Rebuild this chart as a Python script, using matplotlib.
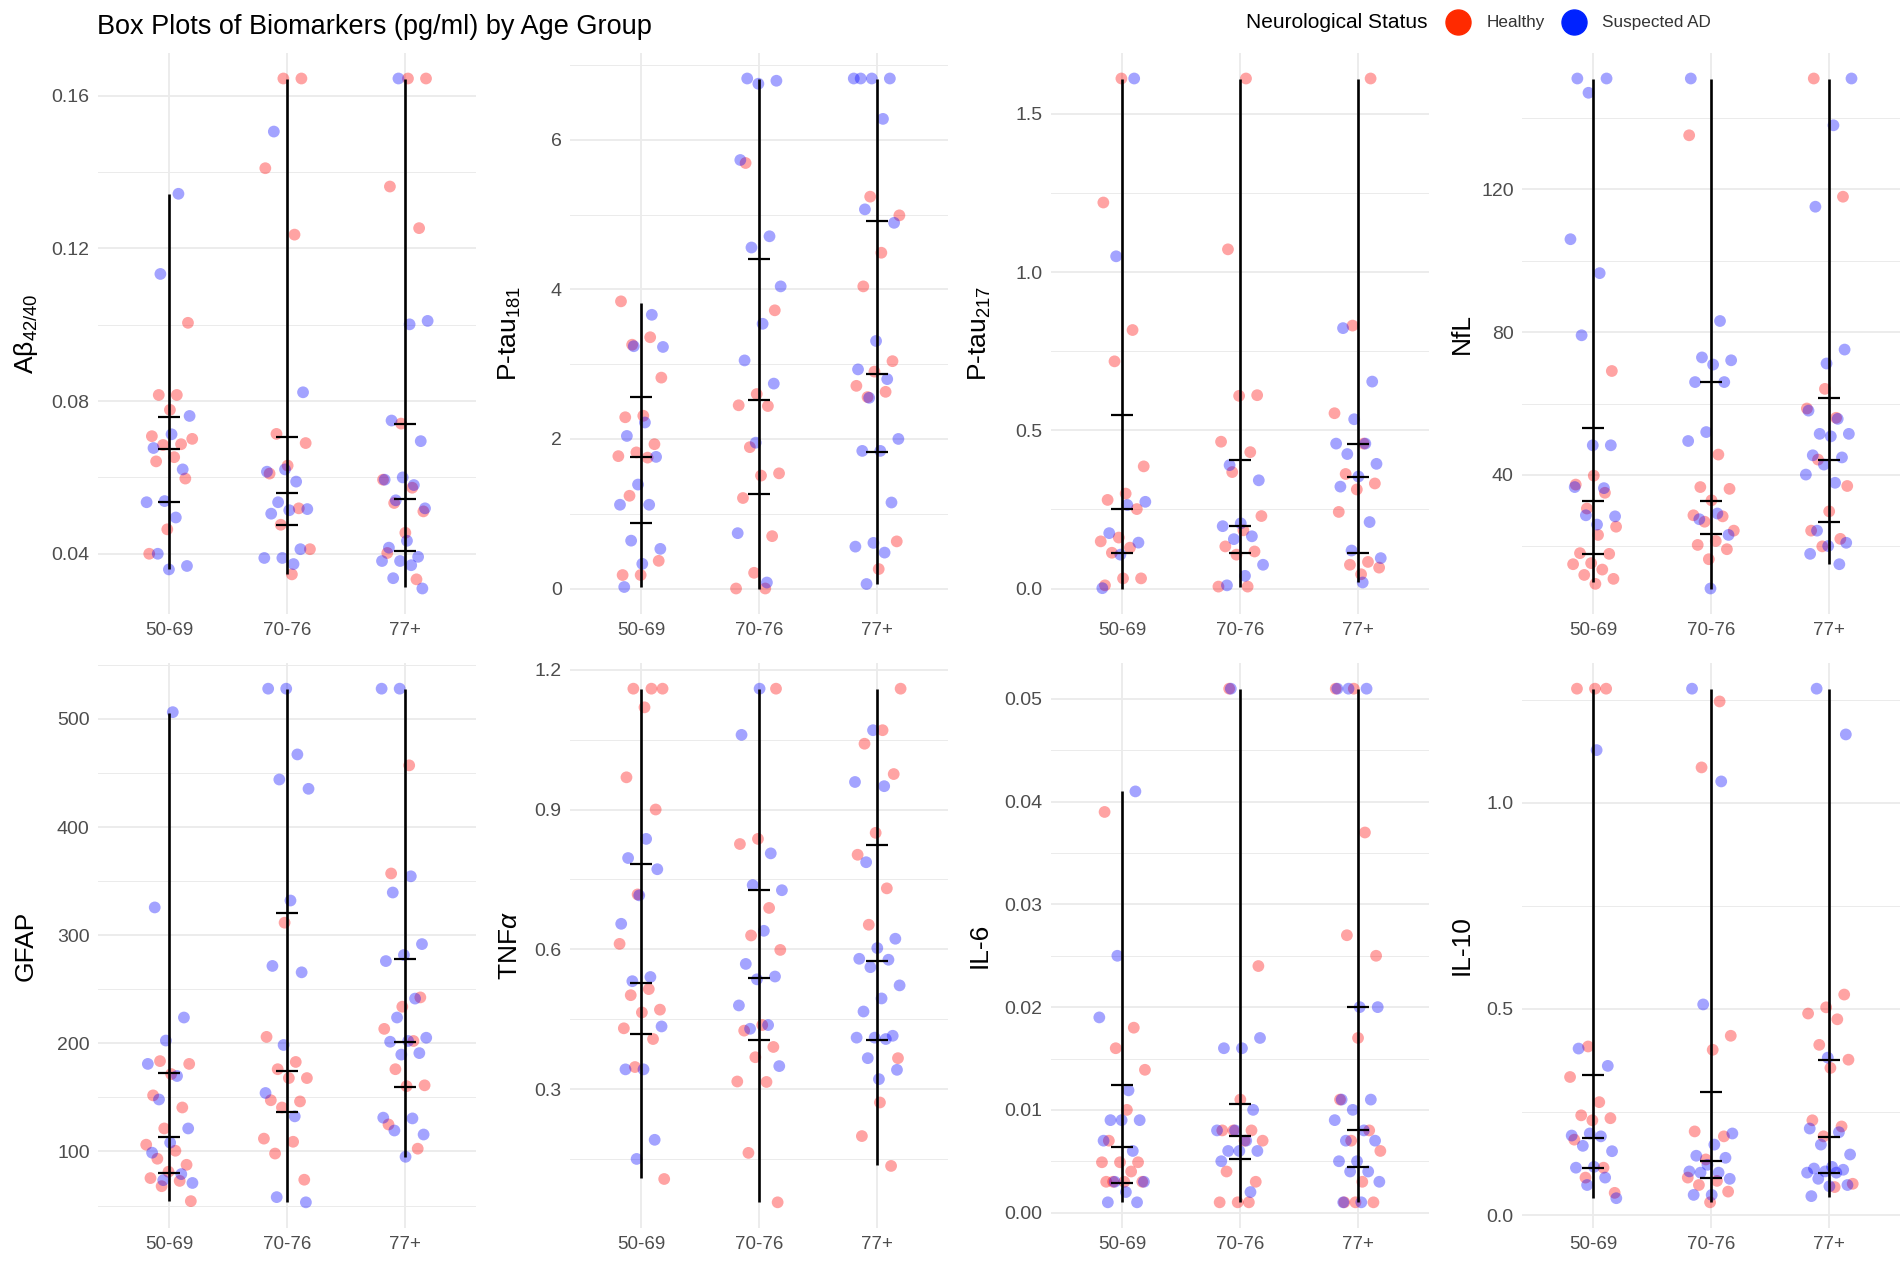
import numpy as np
import matplotlib
matplotlib.use("Agg")
import matplotlib.pyplot as plt
from matplotlib.lines import Line2D

plt.rcParams['font.family'] = ['Liberation Sans', 'DejaVu Sans']
plt.rcParams['mathtext.fontset'] = 'custom'
plt.rcParams['mathtext.rm'] = 'Liberation Sans'
plt.rcParams['mathtext.it'] = 'Liberation Sans:italic'

# ---- data ----
groups = ["50-69", "70-76", "77+"]

# Abeta 42/40
abeta_healthy = [[0.0816, 0.0816, 0.1005, 0.0777, 0.0708, 0.0687, 0.0685, 0.0701, 0.0653, 0.0642, 0.0597, 0.0464, 0.0400],
                 [0.1645, 0.1645, 0.1410, 0.1236, 0.0714, 0.0690, 0.0631, 0.0610, 0.0519, 0.0476, 0.0412, 0.0346],
                 [0.1645, 0.1645, 0.1362, 0.1253, 0.0741, 0.0594, 0.0573, 0.0533, 0.0511, 0.0455, 0.0402, 0.0333]]
abeta_ad = [[0.1343, 0.1133, 0.0761, 0.0713, 0.0677, 0.0621, 0.0538, 0.0535, 0.0495, 0.0400, 0.0368, 0.0359],
            [0.1506, 0.0823, 0.0621, 0.0615, 0.0589, 0.0535, 0.0517, 0.0514, 0.0505, 0.0412, 0.0389, 0.0389, 0.0373],
            [0.1645, 0.1010, 0.1001, 0.0749, 0.0695, 0.0600, 0.0594, 0.0580, 0.0540, 0.0519, 0.0434, 0.0416, 0.0392,
             0.0381, 0.0381, 0.0370, 0.0336, 0.0309]]
# low, q1, median, q3, high
abeta_stats = [[0.0359, 0.0535, 0.0674, 0.0757, 0.1343],
               [0.0348, 0.0476, 0.0560, 0.0706, 0.1645],
               [0.0314, 0.0407, 0.0544, 0.0741, 0.1645]]

# P-tau181
ptau181_healthy = [[3.84, 3.36, 3.26, 2.82, 2.31, 2.29, 1.93, 1.82, 1.77, 1.75, 1.24, 0.37, 0.18, 0.18],
                   [5.69, 3.72, 2.60, 2.45, 2.44, 1.89, 1.54, 1.51, 1.21, 0.70, 0.21, 0.00, 0.00],
                   [5.24, 4.99, 4.49, 4.04, 3.04, 2.90, 2.71, 2.63, 2.56, 0.63, 0.26]]
ptau181_ad = [[3.66, 3.24, 3.23, 2.22, 2.04, 1.76, 1.39, 1.12, 1.12, 0.64, 0.53, 0.33, 0.02],
              [6.82, 6.79, 6.75, 5.73, 4.71, 4.56, 4.04, 3.54, 3.05, 2.74, 1.95, 0.74, 0.08],
              [6.82, 6.82, 6.82, 6.82, 6.28, 5.07, 4.89, 3.31, 2.93, 2.80, 2.55, 2.00, 1.84, 1.84, 1.15, 0.61,
               0.56, 0.48, 0.06]]
ptau181_stats = [[0.02, 0.88, 1.76, 2.56, 3.82],
                 [0.00, 1.27, 2.52, 4.41, 6.82],
                 [0.06, 1.82, 2.87, 4.92, 6.82]]

# P-tau217
ptau217_healthy = [[1.612, 1.22, 0.817, 0.718, 0.386, 0.30, 0.28, 0.251, 0.161, 0.149, 0.129, 0.113, 0.032, 0.032, 0.010],
                   [1.612, 1.072, 0.611, 0.609, 0.464, 0.431, 0.368, 0.229, 0.184, 0.133, 0.117, 0.107, 0.006, 0.006],
                   [1.612, 0.831, 0.554, 0.458, 0.362, 0.332, 0.313, 0.242, 0.084, 0.075, 0.066, 0.045]]
ptau217_ad = [[1.612, 1.05, 0.274, 0.264, 0.175, 0.145, 0.107, 0.001],
              [0.390, 0.342, 0.206, 0.197, 0.165, 0.156, 0.075, 0.040, 0.010],
              [0.823, 0.654, 0.535, 0.458, 0.458, 0.425, 0.394, 0.354, 0.322, 0.210, 0.120, 0.096, 0.019]]
ptau217_stats = [[0.000, 0.113, 0.251, 0.547, 1.612],
                 [0.004, 0.113, 0.197, 0.405, 1.612],
                 [0.019, 0.113, 0.354, 0.457, 1.612]]

# NfL
nfl_healthy = [[69.1, 39.8, 37.3, 35.0, 30.6, 25.5, 23.2, 18.1, 17.9, 15.3, 15.0, 13.5, 12.0, 10.9, 9.5],
               [135.1, 45.7, 36.6, 36.1, 32.9, 28.7, 28.4, 26.9, 24.4, 21.5, 20.4, 19.2, 16.4],
               [151.0, 117.9, 64.1, 58.6, 56.0, 44.3, 36.9, 29.8, 24.4, 22.1, 20.0]]
nfl_ad = [[151.0, 151.0, 147.0, 106.0, 96.5, 79.1, 48.3, 48.3, 36.6, 36.3, 28.7, 28.4, 26.1],
          [151.0, 83.1, 72.9, 72.1, 70.9, 66.0, 66.0, 52.0, 49.5, 29.2, 27.6, 23.2, 8.2],
          [151.0, 137.9, 115.1, 75.1, 71.2, 58.0, 55.7, 51.5, 51.5, 50.8, 45.5, 44.9, 42.9, 40.1, 37.8, 24.4,
           21.0, 20.1, 17.9, 15.0]]
nfl_stats = [[9.9, 17.9, 32.6, 53.1, 151.0],
             [8.2, 23.6, 32.6, 66.0, 151.0],
             [15.2, 26.9, 44.3, 61.5, 151.0]]

# GFAP
gfap_healthy = [[183.6, 181.0, 171.6, 151.9, 140.7, 121.3, 106.3, 100.7, 93.3, 87.7, 81.3, 75.4, 72.8, 67.9, 54.1],
                [311.6, 206.0, 182.8, 176.1, 167.9, 167.9, 147.4, 146.3, 140.7, 111.9, 109.0, 98.1, 73.9],
                [457.1, 357.1, 242.5, 233.9, 213.4, 202.2, 176.1, 161.2, 160.4, 125.0, 102.6]]
gfap_ad = [[506.3, 325.7, 223.9, 202.6, 181.0, 169.8, 148.1, 121.3, 108.2, 98.9, 79.1, 73.5, 70.9],
           [528.0, 528.0, 467.2, 444.0, 435.4, 332.1, 271.6, 265.7, 198.5, 154.1, 132.5, 57.8, 53.0],
           [528.0, 528.0, 354.5, 339.5, 291.8, 281.7, 276.1, 241.4, 223.9, 205.2, 202.2, 201.5, 191.0, 189.6,
            131.3, 130.6, 119.4, 115.7, 95.1]]
gfap_stats = [[54.1, 80.2, 113.1, 172.8, 505.6],
              [53.0, 136.2, 174.3, 320.2, 528.0],
              [95.1, 159.3, 201.5, 277.6, 528.0]]

# TNF alpha
tnf_healthy = [[1.159, 1.159, 1.159, 1.119, 0.969, 0.900, 0.718, 0.612, 0.515, 0.502, 0.471, 0.465, 0.431, 0.408,
                0.348, 0.108],
               [1.159, 0.837, 0.826, 0.689, 0.630, 0.599, 0.438, 0.426, 0.391, 0.369, 0.317, 0.316, 0.164, 0.058],
               [1.159, 1.070, 1.041, 0.976, 0.850, 0.803, 0.731, 0.653, 0.367, 0.272, 0.200, 0.136]]
tnf_ad = [[0.837, 0.796, 0.772, 0.716, 0.655, 0.541, 0.532, 0.435, 0.343, 0.343, 0.192, 0.151],
          [1.159, 1.060, 0.806, 0.738, 0.727, 0.640, 0.569, 0.542, 0.536, 0.480, 0.438, 0.430, 0.350],
          [1.070, 0.959, 0.950, 0.787, 0.623, 0.603, 0.580, 0.578, 0.562, 0.523, 0.495, 0.467, 0.415, 0.411,
           0.411, 0.408, 0.367, 0.342, 0.322]]
tnf_stats = [[0.110, 0.419, 0.529, 0.783, 1.159],
             [0.058, 0.406, 0.539, 0.728, 1.159],
             [0.138, 0.406, 0.575, 0.824, 1.159]]

# IL-6
il6_healthy = [[0.039, 0.018, 0.016, 0.0139, 0.010, 0.007, 0.0049, 0.0049, 0.0049, 0.004, 0.003, 0.003, 0.003, 0.003],
               [0.051, 0.024, 0.011, 0.008, 0.008, 0.008, 0.007, 0.007, 0.004, 0.003, 0.001, 0.001, 0.001],
               [0.051, 0.051, 0.037, 0.027, 0.025, 0.017, 0.011, 0.008, 0.007, 0.006, 0.003, 0.001, 0.001, 0.001]]
il6_ad = [[0.041, 0.025, 0.019, 0.0119, 0.009, 0.009, 0.009, 0.007, 0.006, 0.003, 0.003, 0.002, 0.001, 0.001],
          [0.051, 0.017, 0.016, 0.016, 0.010, 0.008, 0.008, 0.007, 0.006, 0.006, 0.006, 0.005, 0.002],
          [0.051, 0.051, 0.051, 0.020, 0.020, 0.011, 0.011, 0.010, 0.009, 0.008, 0.007, 0.007, 0.005, 0.005,
           0.004, 0.004, 0.003, 0.001, 0.001]]
il6_stats = [[0.001, 0.0029, 0.0064, 0.0124, 0.041],
             [0.001, 0.0052, 0.0075, 0.0106, 0.051],
             [0.001, 0.0044, 0.0080, 0.0200, 0.051]]

# IL-10
il10_healthy = [[1.277, 1.277, 1.277, 0.409, 0.335, 0.274, 0.242, 0.235, 0.230, 0.183, 0.115, 0.091, 0.054],
                [1.246, 1.086, 0.435, 0.401, 0.203, 0.191, 0.135, 0.091, 0.083, 0.073, 0.057, 0.031],
                [0.535, 0.504, 0.489, 0.475, 0.413, 0.377, 0.357, 0.230, 0.215, 0.191, 0.076, 0.068]]
il10_ad = [[1.128, 0.404, 0.362, 0.198, 0.193, 0.191, 0.168, 0.155, 0.117, 0.115, 0.091, 0.073, 0.041],
           [1.277, 1.052, 0.511, 0.198, 0.171, 0.144, 0.139, 0.122, 0.106, 0.103, 0.103, 0.088, 0.049, 0.049],
           [1.277, 1.166, 0.382, 0.210, 0.201, 0.171, 0.147, 0.117, 0.113, 0.110, 0.106, 0.103, 0.103, 0.088,
            0.073, 0.070, 0.046]]
il10_stats = [[0.041, 0.114, 0.188, 0.340, 1.277],
              [0.031, 0.091, 0.132, 0.298, 1.277],
              [0.044, 0.103, 0.189, 0.377, 1.277]]

ylabels = ["A\u03b2$_{42/40}$", "P-tau$_{181}$", "P-tau$_{217}$", "NfL",
           "GFAP", "TNF$\\alpha$", "IL-6", "IL-10"]
yticks = [[0.04, 0.08, 0.12, 0.16], [0, 2, 4, 6], [0.0, 0.5, 1.0, 1.5], [40, 80, 120],
          [100, 200, 300, 400, 500], [0.3, 0.6, 0.9, 1.2], [0.00, 0.01, 0.02, 0.03, 0.04, 0.05], [0.0, 0.5, 1.0]]
ytick_labels = [["0.04", "0.08", "0.12", "0.16"], ["0", "2", "4", "6"], ["0.0", "0.5", "1.0", "1.5"],
                ["40", "80", "120"], ["100", "200", "300", "400", "500"], ["0.3", "0.6", "0.9", "1.2"],
                ["0.00", "0.01", "0.02", "0.03", "0.04", "0.05"], ["0.0", "0.5", "1.0"]]

panels = [(abeta_healthy, abeta_ad, abeta_stats), (ptau181_healthy, ptau181_ad, ptau181_stats),
          (ptau217_healthy, ptau217_ad, ptau217_stats), (nfl_healthy, nfl_ad, nfl_stats),
          (gfap_healthy, gfap_ad, gfap_stats), (tnf_healthy, tnf_ad, tnf_stats),
          (il6_healthy, il6_ad, il6_stats), (il10_healthy, il10_ad, il10_stats)]

# ---- figure ----
W, H = 1902, 1269
fig = plt.figure(figsize=(W / 100, H / 100), dpi=100)

lefts = [98, 570, 1051, 1522]
rows = [(53, 614), (663, 1228)]
pw = 378
label_x = [26, 510, 980, 1462]

red_pt = (1.0, 0.0, 0.0, 0.36)
blue_pt = (0.0, 0.0, 1.0, 0.36)
grid_c = '#EBEBEB'
txt_c = '#4D4D4D'


def jitter(n, seed):
    # low-discrepancy spread of horizontal offsets (geom_jitter look)
    k = np.arange(1, n + 1)
    return ((k * 0.6180339887 + seed) % 1.0 - 0.5) * 0.4


for p, (healthy, ad, stats) in enumerate(panels):
    r, c = divmod(p, 4)
    top, bot = rows[r]
    ax = fig.add_axes([lefts[c] / W, 1 - bot / H, pw / W, (bot - top) / H])

    allv = np.concatenate([np.concatenate(healthy), np.concatenate(ad), np.ravel(stats)])
    lo, hi = allv.min(), allv.max()
    pad = 0.05 * (hi - lo)
    ax.set_ylim(lo - pad, hi + pad)
    ax.set_xlim(-0.6, 2.6)

    # grid
    maj = np.array(yticks[p], dtype=float)
    step = maj[1] - maj[0]
    mnr = np.arange(maj[0] - step / 2, maj[-1] + step, step)
    mnr = mnr[(mnr > lo - pad) & (mnr < hi + pad)]
    for y in mnr:
        ax.axhline(y, color=grid_c, lw=0.7, zorder=0)
    for y in maj:
        ax.axhline(y, color=grid_c, lw=1.3, zorder=0)
    for x in range(3):
        ax.axvline(x, color=grid_c, lw=1.3, zorder=0)

    for g in range(3):
        hv = np.array(healthy[g])
        av = np.array(ad[g])
        dx = jitter(len(hv) + len(av), 0.137 * (3 * p + g) + 0.05)
        ax.scatter(g + dx[:len(hv)], hv, s=72, color=red_pt, edgecolors='none', zorder=2)
        ax.scatter(g + dx[len(hv):], av, s=72, color=blue_pt, edgecolors='none', zorder=2)

        s_lo, q1, med, q3, s_hi = stats[g]
        ax.plot([g, g], [s_lo, s_hi], color='black', lw=1.9, zorder=3, solid_capstyle='butt')
        for q in (q1, med, q3):
            ax.plot([g - 0.095, g + 0.095], [q, q], color='black', lw=1.6, zorder=3, solid_capstyle='butt')

    ax.set_xticks(range(3))
    ax.set_xticklabels(groups, fontsize=13.5, color=txt_c)
    ax.set_yticks(maj)
    ax.set_yticklabels(ytick_labels[p], fontsize=14, color=txt_c)
    ax.tick_params(length=0, pad=6)
    for s in ax.spines.values():
        s.set_visible(False)

    ax.set_ylabel(ylabels[p], fontsize=19, color='black', va='center')
    ax.yaxis.set_label_coords((label_x[c] - lefts[c]) / pw, 0.5)

# title and legend
fig.text(97 / W, 1 - 27 / H, "Box Plots of Biomarkers (pg/ml) by Age Group",
         fontsize=19.5, ha='left', va='center')
ly = 1 - 22 / H
fig.text(1428 / W, ly, "Neurological Status", fontsize=15, ha='right', va='center')
fig.add_artist(Line2D([1458 / W], [ly], transform=fig.transFigure, marker='o', ms=18,
                      color='#FF2A00', linestyle='none'))
fig.text(1487 / W, ly, "Healthy", fontsize=12.3, ha='left', va='center', color='#333333')
fig.add_artist(Line2D([1574 / W], [ly], transform=fig.transFigure, marker='o', ms=18,
                      color='#0022FF', linestyle='none'))
fig.text(1602 / W, ly, "Suspected AD", fontsize=12.3, ha='left', va='center', color='#333333')

fig.savefig("out.png", dpi=100)
